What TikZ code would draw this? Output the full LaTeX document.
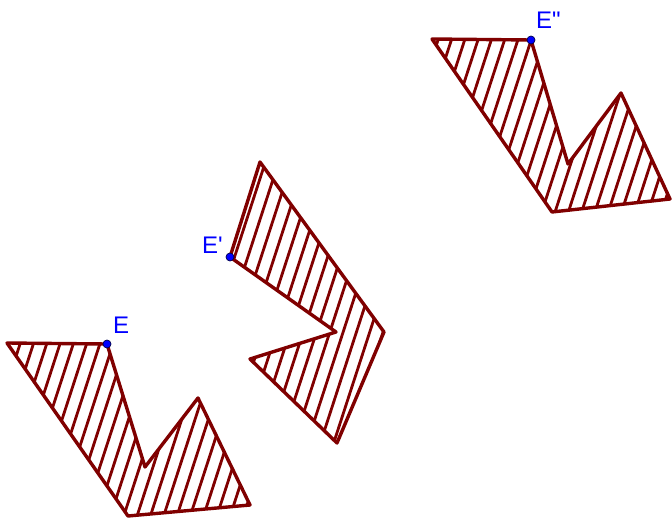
\documentclass[tikz,border=0pt]{standalone}
\usepackage{fontspec}
\newfontfamily\lblfont{Liberation Sans}
\definecolor{shapered}{RGB}{128,0,0}
\definecolor{ptblue}{RGB}{0,0,255}
\tikzset{
  shapeline/.style={draw=shapered, line width=3.4pt, line join=round},
  hatchline/.style={shapered, line width=2.8pt},
  ptdot/.style={circle, fill=ptblue, draw=black!70!blue, line width=0.7pt, inner sep=0pt, minimum size=8pt},
  ptlabel/.style={anchor=base west, text=ptblue, inner sep=0pt, font=\lblfont\fontsize{24}{28}\selectfont}
}
\begin{document}
\begin{tikzpicture}[x=1pt,y=-1pt]
  \useasboundingbox (0,0) rectangle (672,519);

  % first shape
  \coordinate (e) at (107,344);
  \coordinate (a) at (7,343);
  \coordinate (g) at (128,516);
  \coordinate (f) at (250,505);
  \coordinate (d) at (198,398);
  \coordinate (c) at (145,467);

  % mirrored shape
  \coordinate (e1) at (230,257);
  \coordinate (a1) at (260,162);
  \coordinate (g1) at (384,332);
  \coordinate (f1) at (337,443);
  \coordinate (d1) at (250,359);
  \coordinate (c1) at (336,332);

  % translated shape
  \coordinate (e2) at (531,40);
  \coordinate (a2) at (432,39);
  \coordinate (g2) at (552,212);
  \coordinate (f2) at (670,199);
  \coordinate (d2) at (621,93);
  \coordinate (c2) at (568,164);

  % hatching
  \foreach \s in {,1,2}{
    \begin{scope}
      \clip (e\s) -- (a\s) -- (g\s) -- (f\s) -- (d\s) -- (c\s) -- cycle;
      \foreach \k in {0,...,75}
        \draw[hatchline] (-200+13.3*\k,530) -- ++(175.5,-540);
    \end{scope}
    \draw[shapeline] (e\s) -- (a\s) -- (g\s) -- (f\s) -- (d\s) -- (c\s) -- cycle;
  }

  % points and labels
  \node[ptdot] (pe) at (e) {};
  \node[ptdot] (pe1) at (e1) {};
  \node[ptdot] (pe2) at (e2) {};
  \node[ptlabel] (le) at (113,333) {E};
  \node[ptlabel] (le1) at (202,253) {E'};
  \node[ptlabel] (le2) at (536,29) {E"};
\end{tikzpicture}
\end{document}
